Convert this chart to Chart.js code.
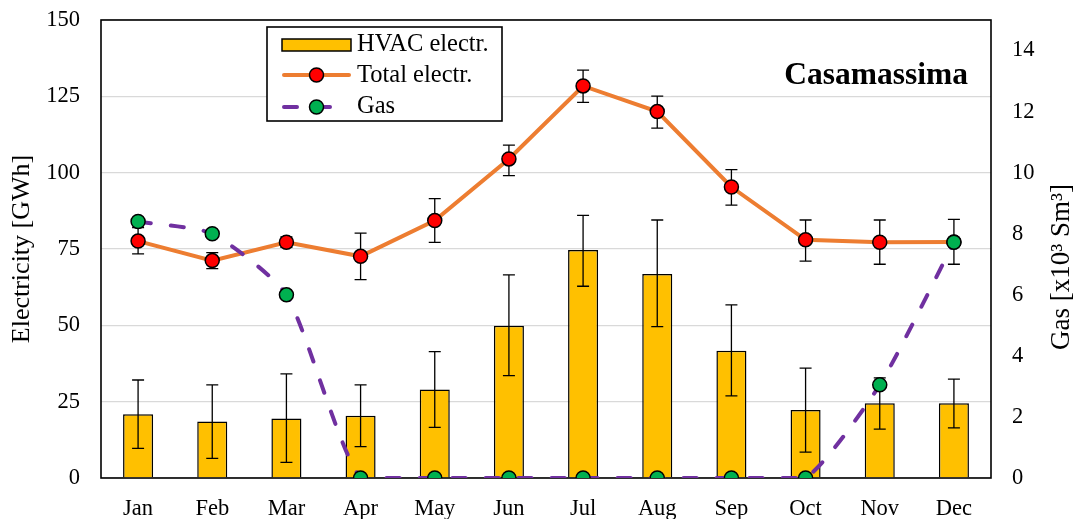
<!DOCTYPE html>
<html>
<head>
<meta charset="utf-8">
<script src="https://cdn.jsdelivr.net/npm/chart.js@4.4.1/dist/chart.umd.min.js"></script>
<style>
  html, body { margin: 0; padding: 0; background: #fff; }
  #wrap { width: 1076px; height: 519px; position: relative; }
</style>
</head>
<body>
<div id="wrap"><canvas id="c"></canvas></div>
<script>
const months = ['Jan','Feb','Mar','Apr','May','Jun','Jul','Aug','Sep','Oct','Nov','Dec'];
const hvac      = [20.9, 18.5, 19.5, 20.4, 29.0, 49.9, 74.7, 66.8, 41.7, 22.3, 24.5, 24.5];
const hvacLow   = [9.7, 6.4, 5.1, 10.3, 16.6, 33.5, 62.8, 49.6, 26.9, 8.5, 16.0, 16.4];
const hvacHigh  = [32.1, 30.5, 34.1, 30.5, 41.4, 66.5, 86.0, 84.5, 56.7, 36.0, 32.8, 32.4];
const total     = [77.6, 71.2, 77.2, 72.6, 84.3, 104.5, 128.4, 120.0, 95.3, 78.0, 77.2, 77.3];
const totalLow  = [73.4, 68.6, 75.5, 65.0, 77.2, 99.0, 123.0, 114.6, 89.4, 71.0, 70.0, 70.0];
const totalHigh = [82.0, 73.8, 79.0, 80.2, 91.5, 109.0, 133.6, 125.1, 101.0, 84.5, 84.5, 84.7];
const gas       = [8.4, 8.0, 6.0, 0, 0, 0, 0, 0, 0, 0, 3.05, 7.72];
const leftTicksMax = 150, leftStep = 25;
const rightTicksMax = 14, rightStep = 2, rightMax = 15;
const chartTitle = 'Casamassima';
const leftTitle = 'Electricity [GWh]';
const rightTitle = 'Gas [x10\u00B3 Sm\u00B3]';

const FONT = "'Liberation Serif', 'Times New Roman', serif";
const TICK_SIZE = 22.5;

function drawErrors(chart, dsIndex, lows, highs, axisId) {
  const ctx = chart.ctx;
  const meta = chart.getDatasetMeta(dsIndex);
  const ys = chart.scales[axisId];
  ctx.save();
  ctx.strokeStyle = '#000';
  ctx.lineWidth = 1.3;
  meta.data.forEach((el, i) => {
    const x = el.x;
    const yl = ys.getPixelForValue(lows[i]);
    const yh = ys.getPixelForValue(highs[i]);
    ctx.beginPath();
    ctx.moveTo(x, yl); ctx.lineTo(x, yh);
    ctx.moveTo(x - 6, yl); ctx.lineTo(x + 6, yl);
    ctx.moveTo(x - 6, yh); ctx.lineTo(x + 6, yh);
    ctx.stroke();
  });
  ctx.restore();
}

const errorPlugin = {
  id: 'errs',
  afterDatasetDraw(chart, args) {
    if (args.index === 0) drawErrors(chart, 0, hvacLow, hvacHigh, 'y');
  },
  beforeDatasetDraw(chart, args) {
    if (args.index === 1) drawErrors(chart, 1, totalLow, totalHigh, 'y');
  }
};

const framePlugin = {
  id: 'frame',
  beforeDatasetsDraw(chart) {
    const {ctx, chartArea: a} = chart;
    ctx.save();
    ctx.strokeStyle = '#000';
    ctx.lineWidth = 1.6;
    ctx.strokeRect(a.left, a.top, a.right - a.left, a.bottom - a.top);
    ctx.restore();
  },
  afterDraw(chart) {
    const ctx = chart.ctx;
    const ds = chart.data.datasets;
    ctx.save();
    const bx = 267, by = 27, bw = 235, bh = 94;
    ctx.fillStyle = '#fff';
    ctx.fillRect(bx, by, bw, bh);
    ctx.strokeStyle = '#000';
    ctx.lineWidth = 1.6;
    ctx.strokeRect(bx, by, bw, bh);
    // HVAC swatch
    ctx.fillStyle = ds[0].backgroundColor;
    ctx.fillRect(282, 39, 69, 12);
    ctx.lineWidth = 1.5;
    ctx.strokeStyle = '#000';
    ctx.strokeRect(282, 39, 69, 12);
    // total line
    ctx.strokeStyle = ds[1].borderColor;
    ctx.lineWidth = ds[1].borderWidth;
    ctx.lineCap = 'round';
    ctx.beginPath(); ctx.moveTo(284, 75); ctx.lineTo(349, 75); ctx.stroke();
    ctx.beginPath(); ctx.arc(316.5, 75, ds[1].pointRadius, 0, Math.PI * 2);
    ctx.fillStyle = ds[1].pointBackgroundColor; ctx.fill();
    ctx.lineWidth = ds[1].pointBorderWidth; ctx.strokeStyle = '#000'; ctx.stroke();
    // gas line
    ctx.strokeStyle = ds[2].borderColor;
    ctx.lineWidth = ds[2].borderWidth;
    ctx.setLineDash(ds[2].borderDash);
    ctx.beginPath(); ctx.moveTo(284, 107); ctx.lineTo(340, 107); ctx.stroke();
    ctx.setLineDash([]);
    ctx.beginPath(); ctx.arc(316.5, 107, ds[2].pointRadius, 0, Math.PI * 2);
    ctx.fillStyle = ds[2].pointBackgroundColor; ctx.fill();
    ctx.lineWidth = ds[2].pointBorderWidth; ctx.strokeStyle = '#000'; ctx.stroke();
    // legend texts
    ctx.fillStyle = '#000';
    ctx.font = '24.5px ' + FONT;
    ctx.textBaseline = 'middle';
    ctx.textAlign = 'left';
    ctx.fillText(ds[0].label, 357, 45);
    ctx.fillText(ds[1].label, 357, 76);
    ctx.fillText(ds[2].label, 357, 107);
    // chart title
    ctx.font = 'bold 31.5px ' + FONT;
    ctx.textAlign = 'right';
    ctx.fillText(chartTitle, 968, 76);
    // right axis title (reads bottom to top)
    ctx.font = '27px ' + FONT;
    ctx.textAlign = 'center';
    ctx.translate(1062, 267);
    ctx.rotate(-Math.PI / 2);
    ctx.fillText(rightTitle, 0, 0);
    ctx.restore();
  }
};

function fixVertical(s, w) {
  s.width = w;
  s.paddingTop = 0;
  s.paddingBottom = 0;
}

new Chart(document.getElementById('c'), {
  data: {
    labels: months,
    datasets: [
      {
        type: 'bar', label: 'HVAC electr.', data: hvac, yAxisID: 'y', order: 3,
        backgroundColor: '#FFC000', borderColor: '#000', borderWidth: 1.5,
        categoryPercentage: 1, barPercentage: 0.405
      },
      {
        type: 'line', label: 'Total electr.', data: total, yAxisID: 'y', order: 2,
        borderColor: '#ED7D31', borderWidth: 4, tension: 0,
        pointRadius: 7, pointHoverRadius: 7, pointBackgroundColor: '#FF0000',
        pointBorderColor: '#000', pointBorderWidth: 1.5
      },
      {
        type: 'line', label: 'Gas', data: gas, yAxisID: 'y1', order: 1,
        borderColor: '#7030A0', borderWidth: 4, borderDash: [13, 20], borderCapStyle: 'round',
        tension: 0.2,
        pointRadius: 7, pointHoverRadius: 7, pointBackgroundColor: '#00B050',
        pointBorderColor: '#000', pointBorderWidth: 1.5
      }
    ]
  },
  options: {
    responsive: true, maintainAspectRatio: false, animation: false,
    layout: { padding: { top: 20, left: 0, right: 0, bottom: 0 } },
    plugins: { legend: { display: false }, tooltip: { enabled: false } },
    scales: {
      x: {
        offset: true,
        grid: { display: false, drawTicks: false },
        border: { display: false },
        ticks: { color: '#000', font: { family: FONT, size: TICK_SIZE }, padding: 18, maxRotation: 0 },
        afterFit(s) { s.height = 41; s.paddingLeft = 0; s.paddingRight = 0; }
      },
      y: {
        position: 'left', min: 0, max: leftTicksMax,
        grid: { color: '#D9D9D9', lineWidth: 1.3, drawTicks: false },
        border: { display: false },
        ticks: { stepSize: leftStep, color: '#000', font: { family: FONT, size: TICK_SIZE }, padding: 21 },
        title: { display: true, text: leftTitle, color: '#000', font: { family: FONT, size: 26 }, padding: { top: 7, bottom: 0 } },
        afterFit(s) { fixVertical(s, 101); }
      },
      y1: {
        position: 'right', min: 0, max: rightMax,
        grid: { display: false, drawTicks: false },
        border: { display: false },
        ticks: { stepSize: rightStep, color: '#000', font: { family: FONT, size: TICK_SIZE }, padding: 21 },
        afterBuildTicks(s) { s.ticks = s.ticks.filter(t => t.value <= rightTicksMax); },
        afterFit(s) { fixVertical(s, 85); }
      }
    }
  },
  plugins: [errorPlugin, framePlugin]
});
</script>
</body>
</html>
